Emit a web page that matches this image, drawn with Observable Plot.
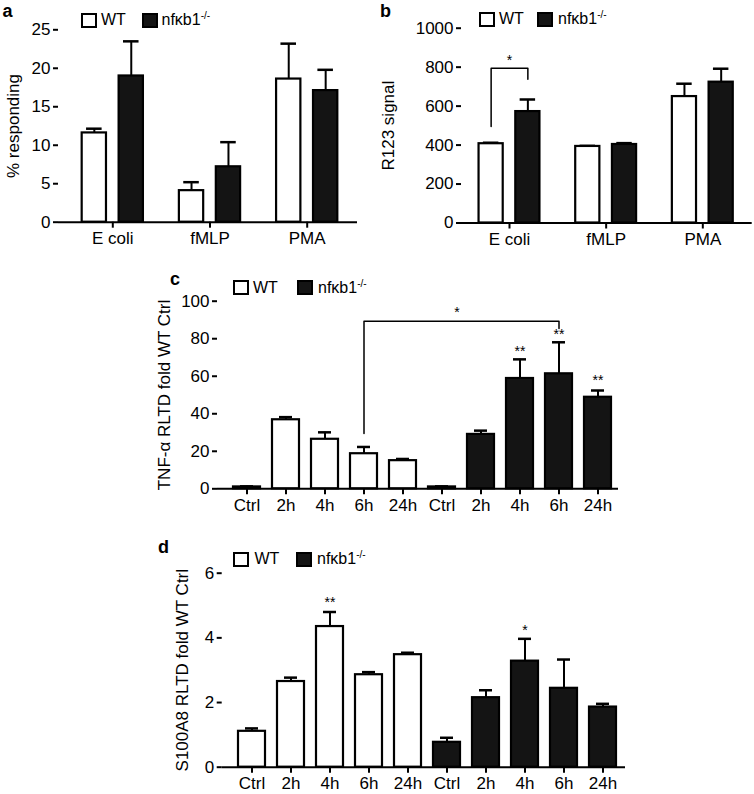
<!DOCTYPE html>
<html><head><meta charset="utf-8">
<script src="https://cdn.jsdelivr.net/npm/d3@7"></script>
<script src="https://cdn.jsdelivr.net/npm/@observablehq/plot@0.6"></script>
<style>
body{margin:0;background:#fff;}
#fig{position:relative;width:754px;height:794px;font-family:"Liberation Sans",Arial,Helvetica,sans-serif;color:#000;overflow:hidden;background:#fff}
.abs{position:absolute}
.letter{font-weight:bold;font-size:18px;line-height:18px}
.sq{box-sizing:border-box;width:16px;height:15px;border:2px solid #000}
.lt{font-size:16px;line-height:16px;white-space:nowrap}
.lt sup{font-size:10px;line-height:0;vertical-align:6px}
</style></head>
<body><div id="fig"></div>
<script>
// ---------- data ----------
const stimuli = ["E coli", "fMLP", "PMA"];
const respWT = [11.6, 4.1, 18.6];
const respWTerr = [0.55, 1.1, 4.6];
const respKO = [19.0, 7.2, 17.1];
const respKOerr = [4.5, 3.2, 2.7];
const r123WT = [407, 393, 649];
const r123WTerr = [5, 3, 66];
const r123KO = [572, 403, 723];
const r123KOerr = [62, 7, 69];
const times = ["Ctrl", "2h", "4h", "6h", "24h"];
const tnfWT = [1, 36.8, 26.4, 18.7, 15.0];
const tnfWTerr = [0.3, 1.4, 3.7, 3.6, 0.9];
const tnfKO = [1, 29.0, 58.8, 61.3, 48.8];
const tnfKOerr = [0.3, 2.0, 10.2, 16.8, 3.6];
const s100WT = [1.11, 2.65, 4.35, 2.86, 3.48];
const s100WTerr = [0.09, 0.12, 0.45, 0.08, 0.06];
const s100KO = [0.77, 2.15, 3.28, 2.44, 1.86];
const s100KOerr = [0.14, 0.23, 0.69, 0.89, 0.10];
const ticksA = [0, 5, 10, 15, 20, 25];
const ticksB = [0, 200, 400, 600, 800, 1000];
const ticksC = [0, 20, 40, 60, 80, 100];
const ticksD = [0, 2, 4, 6];
const genotypes = ["WT", "nfκb1"];
// significance annotations (value levels)
const bracketB = {from: 495, top: 795, to: 738, star: 835, text: "*"};
const bracketC = {from: 29.5, top: 89.3, to: 85.5, star: 94, text: "*"};
const starsC = [{g: "KO", t: "4h", y: 73, s: "**"}, {g: "KO", t: "6h", y: 82.5, s: "**"}, {g: "KO", t: "24h", y: 57.5, s: "**"}];
const starsD = [{g: "WT", t: "4h", y: 5.1, s: "**"}, {g: "KO", t: "4h", y: 4.23, s: "*"}];

// ---------- helpers ----------
const FONT = '"Liberation Sans", Arial, Helvetica, sans-serif';
const fig = document.getElementById("fig");
const BLACK = "#141414";
function put(el, left, top) { el.style.left = left + "px"; el.style.top = top + "px"; el.classList.add("abs"); fig.appendChild(el); return el; }
function div(cls, html) { const d = document.createElement("div"); d.className = cls; d.innerHTML = html; return d; }
const baseStyle = {fontFamily: FONT, fontSize: "16px", color: "black", background: "transparent", overflow: "visible"};
const fmt = d => String(d);

const OFF = 0.19, HW = 0.125, CAP = 0.08;
function groupedMarks(wt, wtE, ko, koE) {
  return [["white", wt, wtE, -OFF], [BLACK, ko, koE, OFF]].flatMap(([fill, v, e, off]) => {
    const rows = stimuli.map((c, i) => ({x: i + off, v: v[i], t: v[i] + e[i]}));
    return [
      Plot.ruleX(rows, {x: "x", y1: "v", y2: "t", stroke: "black", strokeWidth: 2}),
      Plot.ruleY(rows, {y: "t", x1: d => d.x - CAP, x2: d => d.x + CAP, stroke: "black", strokeWidth: 2.5}),
      Plot.rectY(rows, {x1: d => d.x - HW, x2: d => d.x + HW, y1: 0, y2: "v", fill, stroke: "black", strokeWidth: 2.2})
    ];
  });
}
function yAxis(o) {
  return Plot.axisY({ticks: o.ticks, tickFormat: fmt, tickSize: 5, tickPadding: 3, strokeWidth: 2, line: true, fontSize: 17,
    label: o.label, labelAnchor: "center", labelOffset: o.lo, labelArrow: "none"});
}
function groupedPanel(o) {
  return Plot.plot({
    width: o.width, height: o.height, marginLeft: o.ml, marginRight: o.mr, marginTop: o.mt, marginBottom: o.mb,
    style: baseStyle,
    x: {type: "linear", domain: o.xd},
    y: {domain: [0, o.ticks[o.ticks.length - 1]]},
    marks: [
      ...groupedMarks(o.wt, o.wtE, o.ko, o.koE),
      ...(o.extra || []),
      Plot.ruleY([0], {stroke: "black", strokeWidth: 2}),
      yAxis(o),
      Plot.axisX({ticks: [0, 1, 2], tickFormat: i => stimuli[i], tickSize: 6, tickPadding: 4, strokeWidth: 2, fontSize: 17, label: null})
    ]
  });
}

function timeRows(wt, wtE, ko, koE) {
  return [
    ...times.map((t, i) => ({k: "WT|" + t, g: "WT", v: wt[i], t: wt[i] + wtE[i]})),
    ...times.map((t, i) => ({k: "KO|" + t, g: "KO", v: ko[i], t: ko[i] + koE[i]}))
  ];
}
const keys = [...times.map(t => "WT|" + t), ...times.map(t => "KO|" + t)];
function timePanel(o) {
  const rows = timeRows(o.wt, o.wtE, o.ko, o.koE);
  return Plot.plot({
    width: o.width, height: o.height, marginLeft: o.ml, marginRight: o.mr, marginTop: o.mt, marginBottom: o.mb,
    style: baseStyle,
    x: {type: "band", domain: keys, range: o.xr, paddingInner: 0.3, paddingOuter: 0},
    y: {domain: [0, o.ticks[o.ticks.length - 1]]},
    marks: [
      Plot.ruleX(rows, {x: "k", y1: "v", y2: "t", stroke: "black", strokeWidth: 2}),
      Plot.tickY(rows, {x: "k", y: "t", stroke: "black", strokeWidth: 2.5, insetLeft: 7, insetRight: 7}),
      Plot.barY(rows.filter(d => d.g === "WT"), {x: "k", y1: 0, y2: "v", fill: "white", stroke: "black", strokeWidth: 2.2}),
      Plot.barY(rows.filter(d => d.g === "KO"), {x: "k", y1: 0, y2: "v", fill: BLACK, stroke: "black", strokeWidth: 2.2}),
      ...(o.extra || []),
      Plot.ruleY([0], {stroke: "black", strokeWidth: 2}),
      yAxis(o),
      Plot.axisX({tickFormat: k => k.split("|")[1], tickSize: 6, tickPadding: 4, strokeWidth: 2, fontSize: 17, label: null})
    ]
  });
}

// ---------- panel a ----------
put(groupedPanel({width: 377, height: 260, ml: 58, mr: 20, mt: 29.3, mb: 38.3, xd: [-0.5586, 2.5175],
  wt: respWT, wtE: respWTerr, ko: respKO, koE: respKOerr, ticks: ticksA, label: "% responding", lo: 52}), 0, 0);

// ---------- panel b ----------
const bx = [-OFF, -OFF, OFF, OFF];
const bBr = [bracketB.from, bracketB.top, bracketB.top, bracketB.to].map((y, i) => ({x: bx[i], y}));
put(groupedPanel({width: 374, height: 260, ml: 81, mr: 2.3, mt: 27.7, mb: 37.5, xd: [-0.4966, 2.511],
  wt: r123WT, wtE: r123WTerr, ko: r123KO, koE: r123KOerr, ticks: ticksB, label: "R123 signal", lo: 80,
  extra: [
    Plot.line(bBr, {x: "x", y: "y", stroke: "black", strokeWidth: 1.5}),
    Plot.text([bracketB], {x: () => 0, y: "star", text: "text", fontSize: 14})
  ]}), 380, 0);

// ---------- panel c ----------
const cBr = [["WT|6h", bracketC.from], ["WT|6h", bracketC.top], ["KO|6h", bracketC.top], ["KO|6h", bracketC.to]].map(([k, y]) => ({k, y}));
put(timePanel({width: 500, height: 255, ml: 77, mr: 22, mt: 30.7, mb: 36.7, xr: [91, 473.3],
  wt: tnfWT, wtE: tnfWTerr, ko: tnfKO, koE: tnfKOerr, ticks: ticksC, label: "TNF-α RLTD fold WT Ctrl", lo: 60,
  extra: [
    Plot.line(cBr, {x: "k", y: "y", stroke: "black", strokeWidth: 1.5}),
    Plot.text([bracketC], {x: () => "KO|Ctrl", y: "star", text: "text", fontSize: 14, dx: 15}),
    Plot.text(starsC, {x: d => d.g + "|" + d.t, y: "y", text: "s", fontSize: 14})
  ]}), 140, 270);

// ---------- panel d ----------
put(timePanel({width: 500, height: 264, ml: 81.7, mr: 15, mt: 42.7, mb: 27.3, xr: [95.5, 478.8],
  wt: s100WT, wtE: s100WTerr, ko: s100KO, koE: s100KOerr, ticks: ticksD, label: "S100A8 RLTD fold WT Ctrl", lo: 46,
  extra: [
    Plot.text(starsD, {x: d => d.g + "|" + d.t, y: "y", text: "s", fontSize: 14})
  ]}), 140, 530);

// ---------- letters & legends ----------
[["a", 2.5, 2], ["b", 380, 1.5], ["c", 170, 270], ["d", 158, 538]].forEach(([t, x, y]) => put(div("letter", t), x, y));
function legend(wx, tx, kx, kt, top) {
  put(div("sq", ""), wx, top).style.background = "white";
  put(div("sq", ""), kx, top).style.background = BLACK;
  put(div("lt", genotypes[0]), tx, top - 0.5);
  put(div("lt", genotypes[1] + "<sup>-/-</sup>"), kt, top - 0.5);
}
legend(80.5, 101, 141.5, 161.5, 12.7);
legend(479.3, 499, 536.7, 558, 11.7);
legend(232.7, 253, 296.7, 318, 280);
legend(233, 254.5, 296, 317, 551.7);
</script>
</body></html>
